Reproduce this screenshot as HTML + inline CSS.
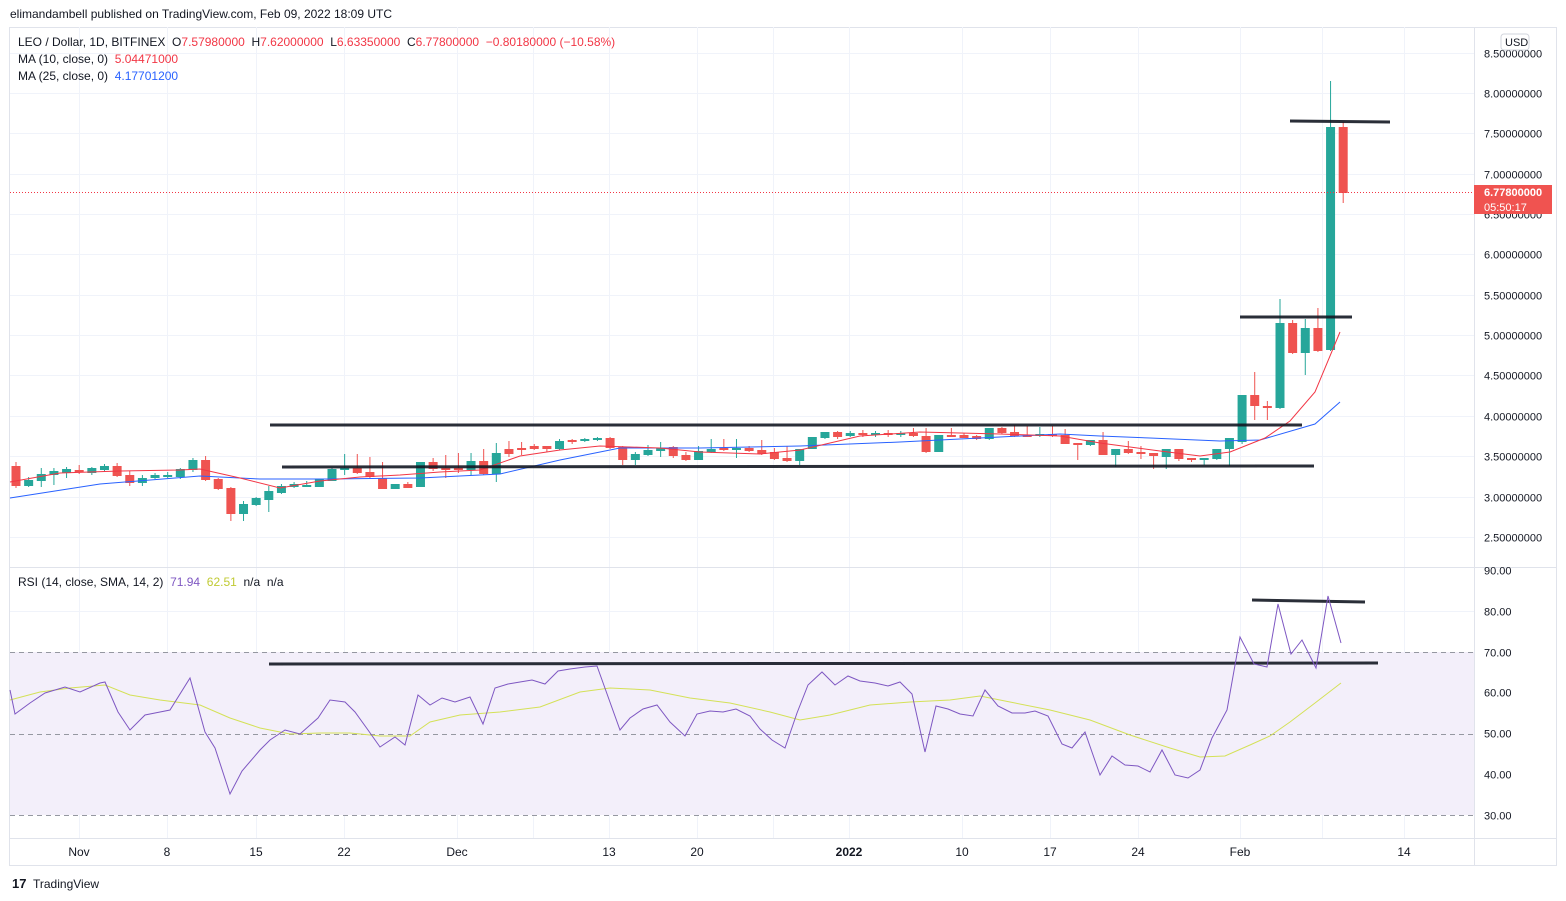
<!DOCTYPE html>
<html><head><meta charset="utf-8">
<style>
html,body{margin:0;padding:0;background:#fff;}
body{width:1566px;height:901px;overflow:hidden;font-family:"Liberation Sans",sans-serif;}
svg{display:block}
text{white-space:pre}
</style></head>
<body>
<svg id="s" width="1566" height="901" xmlns="http://www.w3.org/2000/svg" font-family="Liberation Sans, sans-serif">
<rect width="1566" height="901" fill="#fff"/>
<text x="10" y="18" font-size="12" fill="#131722">elimandambell published on TradingView.com, Feb 09, 2022 18:09 UTC</text>
<rect x="9.5" y="27.5" width="1547" height="838" fill="none" stroke="#e0e3eb"/>
<g id="grid" stroke="#f0f3fa" stroke-width="1"></g>
<rect x="10" y="652" width="1464" height="163" fill="#f3effa"/>
<g stroke="#9598a1" stroke-dasharray="5,4" stroke-width="1">
<line x1="10" y1="652.5" x2="1474" y2="652.5"/><line x1="10" y1="734.5" x2="1474" y2="734.5"/><line x1="10" y1="815.5" x2="1474" y2="815.5"/>
</g>
<line x1="10" y1="567.5" x2="1556" y2="567.5" stroke="#e0e3eb"/>
<line x1="1474.5" y1="27" x2="1474.5" y2="866" stroke="#e0e3eb"/>
<line x1="10" y1="838.5" x2="1556" y2="838.5" stroke="#e0e3eb"/>
<g id="candles"></g>
<polyline id="ma25" fill="none" stroke="#2962ff" stroke-width="1"/>
<polyline id="ma10" fill="none" stroke="#f23645" stroke-width="1"/>
<line x1="10" y1="192.5" x2="1474" y2="192.5" stroke="#f23645" stroke-dasharray="1,2"/>
<g stroke="#131722" stroke-width="3" stroke-opacity="0.9">
<line x1="270" y1="425" x2="1302" y2="425"/>
<line x1="282" y1="467" x2="1314" y2="466"/>
<line x1="1240" y1="317" x2="1352" y2="317"/>
<line x1="1290" y1="121" x2="1390" y2="122"/>
<line x1="269" y1="664" x2="1378" y2="663"/>
<line x1="1252" y1="600" x2="1365" y2="602"/>
</g>
<polyline id="rsisma" fill="none" stroke="#d4e157" stroke-width="1"/>
<polyline id="rsi" fill="none" stroke="#7e57c2" stroke-width="1"/>
<g id="plabels" font-size="11" fill="#131722"></g>
<rect x="1474" y="185" width="78" height="29" fill="#f05350"/>
<text x="1484" y="196" font-size="11" fill="#fff" font-weight="bold">6.77800000</text>
<text x="1484" y="211" font-size="11" fill="#fff">05:50:17</text>
<rect x="1501" y="34" width="28" height="16" rx="3" fill="#fff" stroke="#d1d4dc"/>
<text x="1505" y="46" font-size="11" fill="#131722">USD</text>
<g font-size="12" fill="#131722">
<text x="18" y="46">LEO / Dollar, 1D, BITFINEX  O<tspan fill="#f23645">7.57980000</tspan>  H<tspan fill="#f23645">7.62000000</tspan>  L<tspan fill="#f23645">6.63350000</tspan>  C<tspan fill="#f23645">6.77800000</tspan>  <tspan fill="#f23645">−0.80180000 (−10.58%)</tspan></text>
<text x="18" y="63">MA (10, close, 0)  <tspan fill="#f23645">5.04471000</tspan></text>
<text x="18" y="80">MA (25, close, 0)  <tspan fill="#2962ff">4.17701200</tspan></text>
<text x="18" y="586">RSI (14, close, SMA, 14, 2)  <tspan fill="#7e57c2">71.94</tspan>  <tspan fill="#c0ca33">62.51</tspan>  n/a  n/a</text>
</g>
<g id="tlabels" font-size="12" fill="#131722" text-anchor="middle"></g>
<text x="12" y="888" font-size="13" fill="#131722" font-weight="bold">17</text>
<text x="33" y="888" font-size="12" fill="#131722">TradingView</text>
</svg>
<script>
var NS="http://www.w3.org/2000/svg";
function el(p,t,a,txt){var e=document.createElementNS(NS,t);for(var k in a)e.setAttribute(k,a[k]);if(txt!=null)e.textContent=txt;document.getElementById(p).appendChild(e);return e;}
var py=function(p){return 93+(8-p)*80.7;};
for(var p=2.5;p<=8.51;p+=0.5){var y=Math.round(py(p))+0.5;el("grid","line",{x1:10,y1:y,x2:1474,y2:y});el("plabels","text",{x:1484,y:y+4},p.toFixed(8));}
[90,80,70,60,50,40,30].forEach(function(r){var y=Math.round(570+(90-r)*4.08)+0.5;if(r==80||r==60||r==40)el("grid","line",{x1:10,y1:y,x2:1474,y2:y});el("plabels","text",{x:1484,y:y+4},r.toFixed(2));});
var T=[["Nov",79],["8",167],["15",256],["22",344],["Dec",457],["13",609],["20",697],["2022",849],["10",962],["17",1050],["24",1138],["Feb",1240],["14",1404]];
T.forEach(function(t){el("grid","line",{x1:t[1]+.5,y1:27,x2:t[1]+.5,y2:838});var e=el("tlabels","text",{x:t[1],y:856},t[0]);if(t[0]=="2022")e.setAttribute("font-weight","bold");});
el("grid","line",{x1:533.5,y1:27,x2:533.5,y2:838});el("grid","line",{x1:773.5,y1:27,x2:773.5,y2:838});el("grid","line",{x1:1322.5,y1:27,x2:1322.5,y2:838});
var C=[
[466,486,462,488],[486,480,477,487],[481,474,468,487],[475,471,468,485],[473,469,467,478],[470,472,465,474],[473,468,467,475],[470,466,464,472],[466,476,463,477],[475,483,471,486],[483,478,475,486],[478,475,473,479],[476,475,472,478],[477,469,468,479],[470,460,458,472],[460,480,456,481],
[479,489,478,490],[488,514,487,521],[514,504,501,521],[505,498,497,506],[500,491,486,512],[493,486,484,494],[487,484,482,488],[486,485,481,487],[487,479,479,487],[481,469,468,481],[469,468,454,475],[468,473,454,474],[472,477,457,478],[478,489,462,489],[489,484,484,489],[484,488,482,488],
[487,462,462,487],[462,469,458,471],[468,469,455,478],[468,469,453,473],[470,461,453,475],[461,474,449,475],[474,453,443,482],[449,454,441,457],[448,449,442,455],[446,449,444,450],[446,449,446,452],[449,441,439,450],[440,442,439,444],[440,439,438,442],[439,438,437,441],[438,448,437,449],
[447,460,446,465],[460,454,452,465],[455,450,445,456],[451,448,442,457],[447,456,446,458],[455,460,452,461],[460,451,446,460],[452,449,439,453],[448,450,439,451],[450,448,439,458],[448,451,446,452],[450,454,440,455],[452,459,448,460],[458,461,446,462],[461,449,449,465],[449,437,437,449],
[438,432,432,439],[432,437,431,439],[436,433,431,437],[433,435,430,437],[435,433,431,437],[433,435,430,437],[435,433,431,437],[433,436,428,437],[436,452,428,453],[452,435,435,452],[435,436,428,437],[435,438,433,438],[436,439,435,440],[439,428,428,440],[428,433,427,434],[432,436,425,437],
[435,436,426,437],[436,434,427,437],[434,436,426,437],[435,444,429,444],[443,445,443,460],[445,440,440,446],[440,455,432,455],[455,449,449,467],[449,453,441,454],[452,454,446,459],[453,456,453,469],[457,449,449,469],[449,459,449,461],[458,460,458,462],[460,458,458,465],[459,449,449,460],
[449,438,438,466],[442,395,395,444],[395,406,372,420],[406,408,401,420],[408,323,299,409],[323,353,320,354],[353,328,319,375],[328,351,308,352],[350,127,81,351],[127,193,122,203]];
C.forEach(function(c,i){var x=16+i*12.64;var up=c[1]<c[0];var col=up?"#26a69a":"#ef5350";
el("candles","line",{x1:x,y1:c[2],x2:x,y2:c[3],stroke:col,"stroke-width":1});
var t=Math.min(c[0],c[1]),h=Math.max(2,Math.abs(c[0]-c[1]));el("candles","rect",{x:x-4.5,y:t,width:9,height:h,fill:col});});
function pts(id,a){document.getElementById(id).setAttribute("points",a.map(function(p){return p.join(",");}).join(" "));}
pts("ma25",[[10,498],[100,484],[200,476],[260,479],[330,479],[420,478],[500,474],[560,460],[620,448],[700,448],[800,446],[900,442],[1000,437],[1060,434],[1100,436],[1150,438],[1220,441],[1260,440],[1315,424],[1340,402]]);
pts("ma10",[[10,482],[60,473],[120,471],[180,470],[200,469],[240,478],[280,488],[320,481],[360,477],[400,475],[440,472],[480,470],[520,456],[560,450],[600,446],[660,448],[700,452],[760,454],[800,450],[860,436],[920,432],[1000,434],[1060,436],[1100,443],[1160,451],[1200,456],[1230,452],[1265,438],[1290,421],[1315,392],[1340,332]]);
pts("rsi",[[10,690],[15,714],[30,703],[45,693],[65,687],[80,692],[100,683],[105,682],[118,712],[130,730],[145,715],[160,712],[170,710],[190,678],[205,732],[215,748],[230,794],[242,771],[260,750],[270,740],[285,730],[300,734],[318,718],[330,700],[345,702],[355,712],[368,730],[380,747],[395,737],[405,745],[418,695],[430,705],[442,698],[455,702],[470,697],[483,724],[495,688],[508,684],[520,682],[532,680],[545,684],[558,671],[570,669],[585,667],[597,666],[620,730],[630,718],[643,709],[657,705],[670,722],[685,736],[697,714],[710,711],[723,712],[736,709],[750,716],[760,729],[772,740],[785,748],[797,713],[808,685],[822,672],[835,685],[848,676],[860,681],[875,683],[888,686],[900,682],[912,694],[925,752],[936,706],[948,709],[960,714],[973,716],[985,690],[998,706],[1012,713],[1025,713],[1035,711],[1048,716],[1062,744],[1072,748],[1085,732],[1100,775],[1112,756],[1125,765],[1138,766],[1150,772],[1162,750],[1175,775],[1188,778],[1200,770],[1212,738],[1227,710],[1240,637],[1254,664],[1267,667],[1278,604],[1291,654],[1302,640],[1316,668],[1328,596],[1341,643]]);
pts("rsisma",[[10,700],[40,692],[70,688],[105,685],[130,695],[160,700],[200,705],[230,718],[260,728],[290,734],[320,733],[350,733],[380,736],[410,736],[430,722],[460,715],[500,712],[540,707],[580,692],[610,688],[650,690],[690,698],[730,703],[770,712],[800,720],[830,715],[870,705],[910,702],[950,700],[980,696],[1010,702],[1050,710],[1090,720],[1130,735],[1170,748],[1200,757],[1225,756],[1250,745],[1270,736],[1290,722],[1315,703],[1341,683]]);
</script>
</body></html>
